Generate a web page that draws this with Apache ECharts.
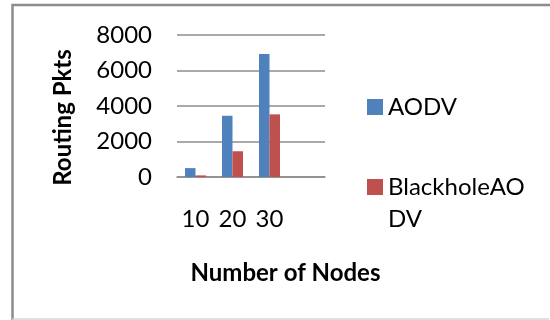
<!DOCTYPE html>
<html>
<head>
<meta charset="utf-8">
<script src="https://cdn.jsdelivr.net/npm/echarts@6/dist/echarts.min.js"></script>
<style>
html,body{margin:0;padding:0;background:#fff;overflow:hidden;}
#chart{width:550px;height:320px;}
</style>
</head>
<body>
<div id="chart"></div>
<script>
const categories = ['10', '20', '30'];
const seriesNames = ['AODV', 'BlackholeAODV'];
const aodv = [500, 3450, 6930];
const blackholeAodv = [90, 1450, 3530];
const yTicks = { min: 0, max: 8000, interval: 2000 };
const xTitle = 'Number of Nodes';
const yTitle = 'Routing Pkts';

const FONT = 'Lato';
const chart = echarts.init(document.getElementById('chart'), null, { renderer: 'canvas' });
chart.setOption({
  animation: false,
  backgroundColor: '#fff',
  color: ['#4f81bd', '#c0504d'],
  grid: { left: 177, right: 225, top: 35, bottom: 143, containLabel: false },
  xAxis: {
    type: 'category',
    data: categories,
    max: 3,
    axisLine: { show: true, lineStyle: { color: '#8c8c8c', width: 1.5 } },
    axisTick: { show: false },
    axisLabel: { margin: 30, fontFamily: FONT, fontSize: 24, color: '#000',
      formatter: v => (v === undefined || v === null || v === '3') ? '' : v }
  },
  yAxis: {
    type: 'value',
    min: yTicks.min, max: yTicks.max, interval: yTicks.interval,
    axisLine: { show: false },
    axisTick: { show: false },
    splitLine: { lineStyle: { color: '#8c8c8c', width: 1.5 } },
    axisLabel: { margin: 25, fontFamily: FONT, fontSize: 24, color: '#000',
      formatter: v => String(v) }
  },
  legend: {
    orient: 'vertical',
    left: 367, top: 91,
    padding: 0,
    itemWidth: 16, itemHeight: 16, itemGap: 16,
    icon: 'rect',
    textStyle: { fontFamily: FONT, fontSize: 24, color: '#000', lineHeight: 32 },
    formatter: n => n === 'BlackholeAODV' ? '\nBlackholeAO\nDV' : n,
    data: seriesNames
  },
  series: [
    { name: seriesNames[0], type: 'bar', data: aodv, barWidth: 10.5, barGap: '0%' },
    { name: seriesNames[1], type: 'bar', data: blackholeAodv, barWidth: 10.5, barGap: '0%' }
  ],
  graphic: [
    { type: 'polyline', shape: { points: [[12.5, 330], [12.5, 5], [560, 5]] },
      style: { fill: 'none', stroke: '#8c8c8c', lineWidth: 2.5 }, z: -1 },
    { type: 'line', shape: { x1: 12, y1: 319, x2: 549, y2: 319 },
      style: { stroke: '#d4d4d4', lineWidth: 1.5 }, z: -1 },
    { type: 'text', x: 285.5, y: 273,
      style: { text: xTitle, fontFamily: FONT, fontWeight: 'bold', fontSize: 24, fill: '#000',
        textAlign: 'center', textVerticalAlign: 'middle' } },
    { type: 'text', x: 63, y: 117.5, rotation: Math.PI / 2,
      style: { text: yTitle, fontFamily: FONT, fontWeight: 'bold', fontSize: 24, fill: '#000',
        textAlign: 'center', textVerticalAlign: 'middle' } }
  ]
});
</script>
</body>
</html>
